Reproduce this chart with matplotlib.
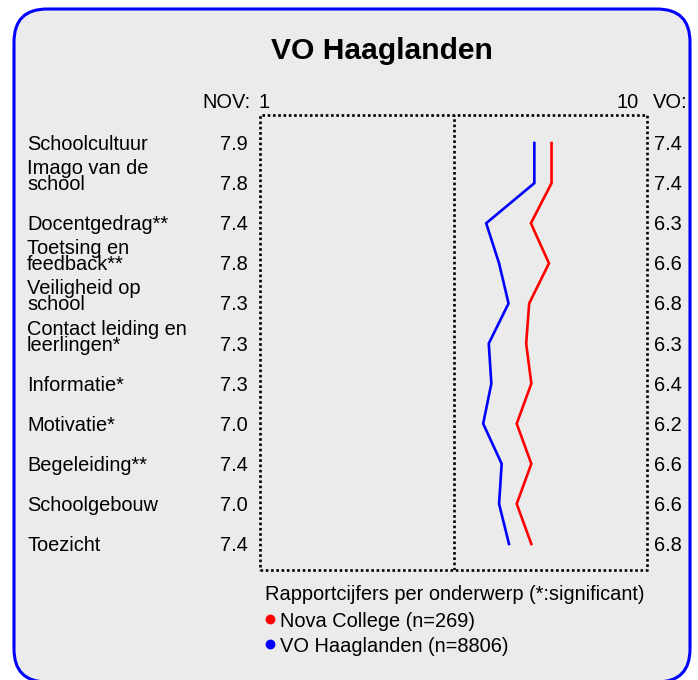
import matplotlib
matplotlib.use("Agg")
import matplotlib.pyplot as plt
from matplotlib.patches import FancyBboxPatch
from matplotlib import transforms

plt.rcParams['font.family'] = ['Liberation Sans', 'DejaVu Sans']

# ---- data ----
categories = ["Schoolcultuur", "Imago van de\nschool", "Docentgedrag**",
              "Toetsing en\nfeedback**", "Veiligheid op\nschool",
              "Contact leiding en\nleerlingen*", "Informatie*", "Motivatie*",
              "Begeleiding**", "Schoolgebouw", "Toezicht"]
nov_labels = ["7.9", "7.8", "7.4", "7.8", "7.3", "7.3", "7.3", "7.0", "7.4", "7.0", "7.4"]
vo_labels = ["7.4", "7.4", "6.3", "6.6", "6.8", "6.3", "6.4", "6.2", "6.6", "6.6", "6.8"]
nova_values = [7.78, 7.78, 7.30, 7.72, 7.26, 7.19, 7.31, 6.97, 7.31, 6.97, 7.31]
vo_values = [7.38, 7.38, 6.26, 6.56, 6.78, 6.32, 6.38, 6.19, 6.62, 6.56, 6.79]
title = "VO Haaglanden"
legend_title = "Rapportcijfers per onderwerp (*:significant)"
series_names = ["Nova College (n=269)", "VO Haaglanden (n=8806)"]
series_colors = ["#FF0000", "#0000FF"]
x_min, x_max = 1, 10

W, H = 698, 680
fig = plt.figure(figsize=(W / 100, H / 100), dpi=100)
fig.patch.set_facecolor("white")

# background canvas in pixel coordinates
bg = fig.add_axes([0, 0, 1, 1])
bg.set_xlim(0, W)
bg.set_ylim(H, 0)
bg.axis("off")
box = FancyBboxPatch((14, 9), 676, 673, boxstyle="round,pad=0,rounding_size=33",
                     fc="#EBEBEB", ec="#0000FF", lw=2.2)
bg.add_patch(box)

# main plot area
ax_l, ax_r, ax_t, ax_b = 260, 647, 115, 570
ax = fig.add_axes([ax_l / W, 1 - ax_b / H, (ax_r - ax_l) / W, (ax_b - ax_t) / H])
ax.set_facecolor("none")
ax.set_xlim(x_min, x_max)
n = len(categories)
ax.set_ylim(n - 1 + 0.65, -0.70)
ax.set_xticks([])
ax.set_yticks([])
for s in ax.spines.values():
    s.set_visible(False)
dot = (0, (1, 1))
ax.plot([0, 1, 1, 0, 0], [0, 0, 1, 1, 0], transform=ax.transAxes, ls=dot,
        lw=1.9, color="black", clip_on=False)
ax.axvline((x_min + x_max) / 2, ls=dot, lw=1.9, color="black")

rows = list(range(n))
ax.plot(vo_values, rows, color=series_colors[1], lw=1.9, solid_joinstyle="miter")
ax.plot(nova_values, rows, color=series_colors[0], lw=1.9, solid_joinstyle="miter")

fs = 14.4
# row labels: x in pixels, y in data rows
blend = transforms.blended_transform_factory(bg.transData, ax.transData)
def off(px):
    return blend + transforms.ScaledTranslation(0, -px / 100, fig.dpi_scale_trans)

for i, cat in enumerate(categories):
    lines = cat.split("\n")
    for k, line in enumerate(lines):
        shift = 7 - 16 * (len(lines) - 1 - k)
        bg.text(27, i, line, transform=off(shift), fontsize=fs, ha="left",
                va="baseline", color="black")
    bg.text(248, i, nov_labels[i], transform=off(7), fontsize=fs, ha="right",
            va="baseline")
    bg.text(654, i, vo_labels[i], transform=off(7), fontsize=fs, ha="left",
            va="baseline")

# headers
bg.text(382, 59, title, fontsize=21.6, fontweight="bold", ha="center", va="baseline")
bg.text(251, 108, "NOV:", fontsize=fs, ha="right", va="baseline")
bg.text(259, 108, str(x_min), fontsize=fs, ha="left", va="baseline")
bg.text(639, 108, str(x_max), fontsize=fs, ha="right", va="baseline")
bg.text(653, 108, "VO:", fontsize=fs, ha="left", va="baseline")

# legend
bg.text(265, 600, legend_title, fontsize=fs, ha="left", va="baseline")
for j, (name, col) in enumerate(zip(series_names, series_colors)):
    y = 619 + 25 * j
    bg.scatter([270], [y], s=50, color=col, zorder=5, linewidths=0)
    bg.text(280, y + 8, name, fontsize=fs, ha="left", va="baseline")

fig.savefig("out.png", dpi=100, facecolor="white")
